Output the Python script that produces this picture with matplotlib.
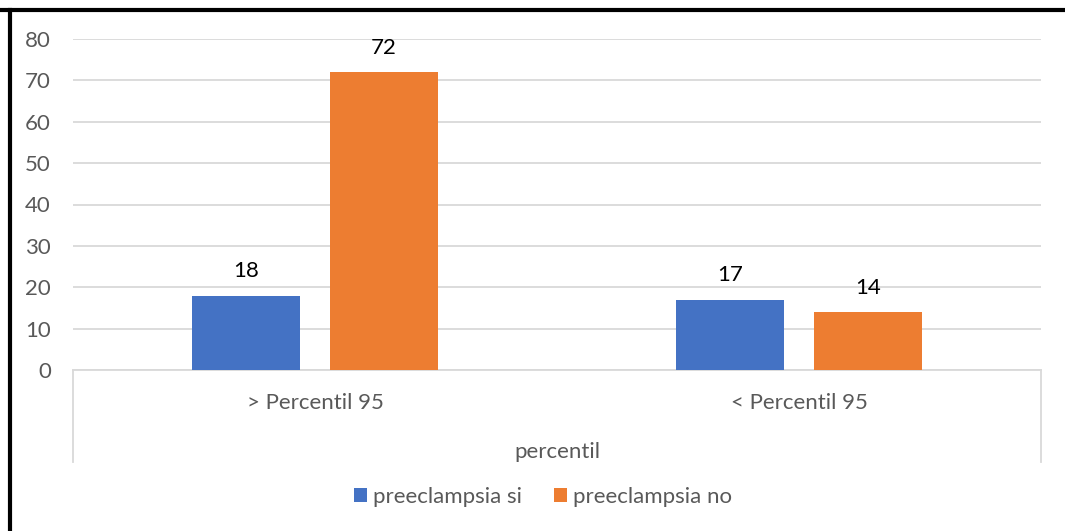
import matplotlib
matplotlib.use("Agg")
import matplotlib.pyplot as plt
from matplotlib.lines import Line2D
import numpy as np

categories = ["> Percentil 95", "< Percentil 95"]
series_names = ["preeclampsia si", "preeclampsia no"]
si_values = [18, 17]
no_values = [72, 14]
y_ticks = [0, 10, 20, 30, 40, 50, 60, 70, 80]
axis_title = "percentil"

colors = ["#4472C4", "#ED7D31"]
grid_color = "#D9D9D9"
text_gray = "#595959"
font = "Lato"
fsize = 16

W, H = 1065, 531
fig = plt.figure(figsize=(W / 100, H / 100), dpi=100)

def fx(px):
    return px / W

def fy(py):
    return 1 - py / H

ax_left, ax_right, ax_top, ax_bottom = 73, 1041, 39, 370
ax = fig.add_axes([fx(ax_left), fy(ax_bottom), fx(ax_right - ax_left), fy(ax_top) - fy(ax_bottom)])

x = np.arange(len(categories))
bar_w = 0.223
offset = 0.1426
ax.bar(x - offset, si_values, bar_w, color=colors[0], label=series_names[0], zorder=3)
ax.bar(x + offset, no_values, bar_w, color=colors[1], label=series_names[1], zorder=3)

for xs, vals in ((x - offset, si_values), (x + offset, no_values)):
    for xi, v in zip(xs, vals):
        ax.annotate(f"{v}", (xi, v), xytext=(0, 17.5), textcoords="offset points",
                    ha="center", va="center", fontsize=fsize, color="black", family=font)

ax.set_xlim(-0.5, 1.5)
ax.set_ylim(0, 80)
ax.set_yticks(y_ticks)
ax.set_yticklabels([str(t) for t in y_ticks], fontsize=fsize, color=text_gray, family=font)
ax.tick_params(axis="y", length=0, pad=16)
ax.set_xticks([])
ax.grid(axis="y", color=grid_color, linewidth=1.3, zorder=0)
for s in ("top", "right", "left"):
    ax.spines[s].set_visible(False)
ax.spines["bottom"].set_color(grid_color)
ax.spines["bottom"].set_linewidth(1.3)

# category axis box and labels
for px in (ax_left, ax_right):
    fig.add_artist(Line2D([fx(px), fx(px)], [fy(ax_bottom), fy(462)], color=grid_color, linewidth=1.3))
for xi, cat in zip(x, categories):
    xf = fx(ax_left + (xi + 0.5) * (ax_right - ax_left) / 2)
    fig.text(xf, fy(403), cat, ha="center", va="center", fontsize=fsize, color=text_gray, family=font)
fig.text(fx((ax_left + ax_right) / 2), fy(452), axis_title, ha="center", va="center",
         fontsize=fsize, color=text_gray, family=font)

# legend
leg = fig.legend(loc="center", bbox_to_anchor=(fx(543), fy(497)), ncol=2, frameon=False,
                 prop={"family": font, "size": fsize}, handlelength=0.6, handleheight=0.6,
                 handletextpad=0.25, columnspacing=1.45)
for t in leg.get_texts():
    t.set_color(text_gray)

# outer frame (top and left edges)
fig.add_artist(Line2D([0, 1], [fy(10), fy(10)], color="black", linewidth=3))
fig.add_artist(Line2D([fx(9.5), fx(9.5)], [0, fy(10)], color="black", linewidth=3))

fig.savefig("out.png", dpi=100)
